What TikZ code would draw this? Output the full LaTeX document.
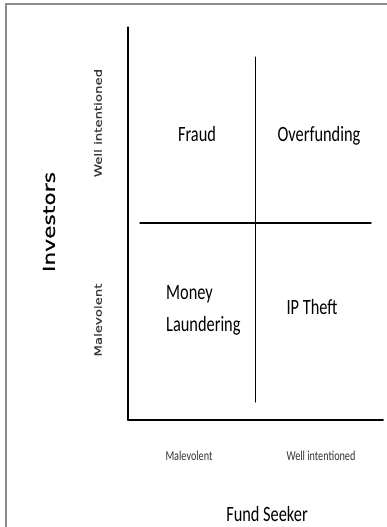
\documentclass[tikz,border=0pt]{standalone}
\usepackage{fontspec}
\setmainfont{Carlito}[FakeStretch=0.75]
\newfontfamily\widesans[FakeStretch=1.33,FakeBold=0.6]{DejaVu Sans}
\begin{document}
\begin{tikzpicture}[x=1pt,y=-1pt,line cap=round,inner sep=0pt,font=\fontsize{21.8}{32}\selectfont]
\def \xmin{128};
\def \xmax{383};
\def \ymin{27};
\def \ymax{420};
\def \xmid{255};
\def \ymid{223};
\clip (0,0) rectangle (387,527);
\draw[black!45, line width=2pt] (5.5,4) rectangle (400,540);
% axes and quadrant cross
\draw[line width=1.3pt] (\xmin,\ymin) -- (\xmin,\ymax);
\draw[line width=2pt] (\xmin,\ymax) -- (\xmax,\ymax);
\draw[line width=1pt] (\xmid,57) -- (\xmid,402);
\draw[line width=1.4pt] (140,\ymid) -- (371,\ymid);
% quadrants
\node[anchor=base] (fraud) at (197,141.5) {Fraud};
\node[anchor=base] (overfunding) at (319,141.5) {Overfunding};
\node[anchor=north west,align=left] (laundering) at (166,285) {Money\\Laundering};
\node[anchor=base] (theft) at (312,314) {IP Theft};
% axis labels
\node[anchor=base,font=\fontsize{13.6}{16}\selectfont,text=black!80] (seekbad) at (189,460) {Malevolent};
\node[anchor=base,font=\fontsize{13.6}{16}\selectfont,text=black!80] (seekgood) at (321,460) {Well intentioned};
\node[anchor=base] (seeker) at (267,521.5) {Fund Seeker};
\node[rotate=90,font=\widesans\fontsize{16.4}{20}\selectfont] (investors) at (49,222) {Investors};
\node[rotate=90,font=\widesans\fontsize{10}{12}\selectfont,text=black!80] (invgood) at (98,123) {Well intentioned};
\node[rotate=90,font=\widesans\fontsize{10}{12}\selectfont,text=black!80] (invbad) at (98,320) {Malevolent};
\end{tikzpicture}
\end{document}
